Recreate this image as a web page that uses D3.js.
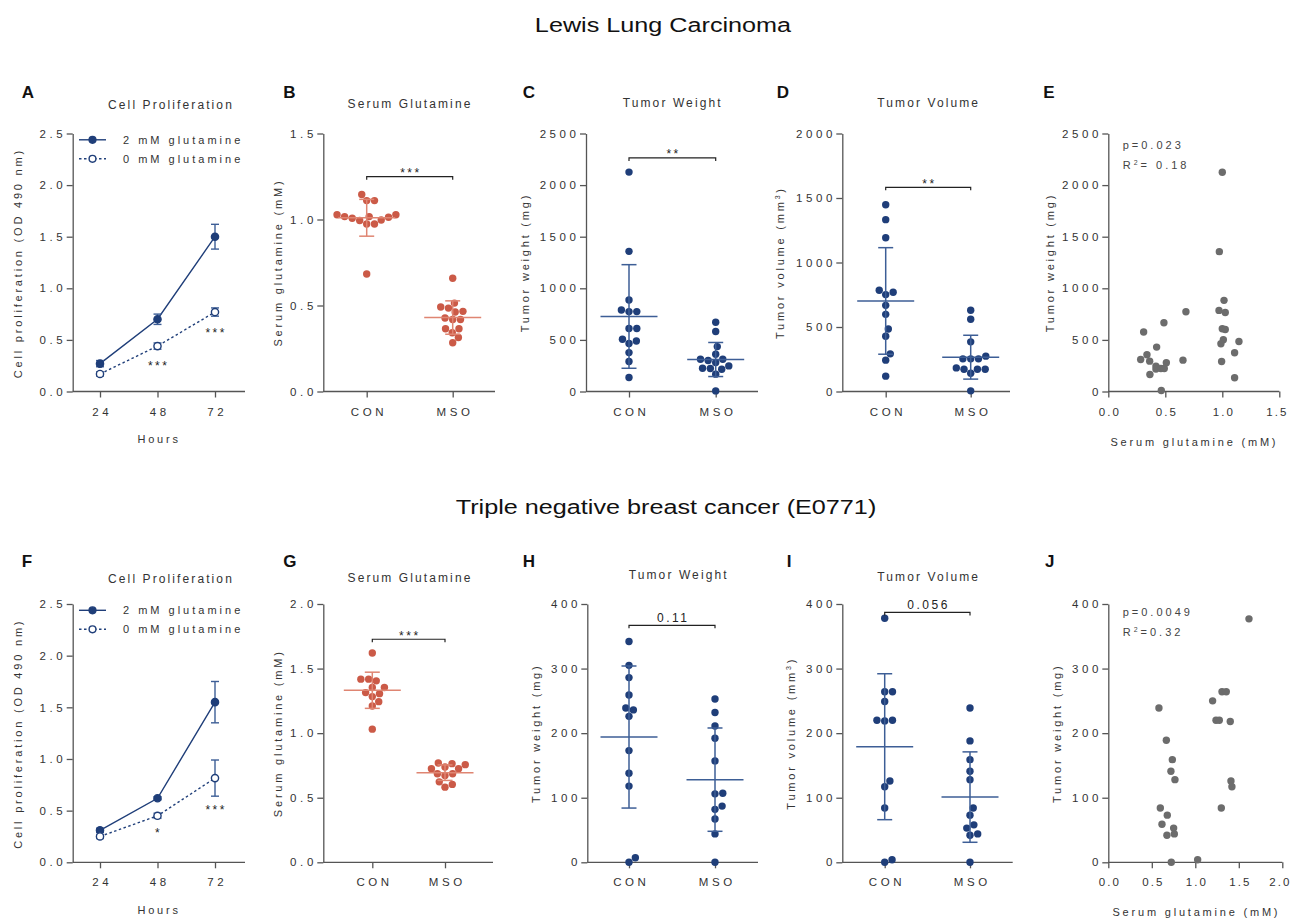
<!DOCTYPE html>
<html>
<head>
<meta charset="utf-8">
<script src="https://cdn.jsdelivr.net/npm/d3@7"></script>
<style>
body { margin: 0; background: #fff; }
svg { font-family: "Liberation Sans", Arial, Helvetica, sans-serif; }
.axis .domain, .axis .tick line { stroke: #555; stroke-width: 1.3; }
.axis .tick text { fill: #333; font-size: 11.5px; letter-spacing: 3.6px; font-family: "Liberation Sans", Arial, sans-serif; }
.corr-x .tick text { letter-spacing: 2px; }
.ptitle { fill: #333; font-size: 12px; letter-spacing: 2.1px; }
.alabel { fill: #333; font-size: 11px; letter-spacing: 2.8px; }
.legend { fill: #333; font-size: 11px; letter-spacing: 3px; }
.stat { fill: #444; font-size: 11px; letter-spacing: 3px; }
.sig { fill: #222; font-size: 12px; letter-spacing: 2.5px; }
.letter { fill: #111; font-size: 17px; font-weight: bold; }
.maintitle { fill: #111; font-size: 21px; }
</style>
</head>
<body>
<script>
// Glutamine / MSO figure: Lewis lung carcinoma (top) and E0771 TNBC (bottom)

// ---------- shared ----------
var hours = [24, 48, 72];
var groupNames = ["CON", "MSO"];
var prolifTicks = [0, 0.5, 1, 1.5, 2, 2.5];

// ---------- Lewis lung carcinoma ----------
var llcProlifHigh = [0.27, 0.70, 1.50];
var llcProlifHighSd = [0.03, 0.05, 0.12];
var llcProlifLow = [0.17, 0.44, 0.77];
var llcProlifLowSd = [0.02, 0.03, 0.04];
var llcProlifStars = ["", "***", "***"];
var llcProlifStarAt = [0, 0.28, 0.60];

var llcSerumCon = [1.145, 1.11, 1.11, 1.017, 1.013, 0.997, 1.028, 1.028, 0.974, 0.974, 0.994, 1.007, 1.017, 0.683];
var llcSerumMso = [0.658, 0.485, 0.514, 0.491, 0.462, 0.466, 0.427, 0.419, 0.419, 0.365, 0.365, 0.342, 0.314, 0.283];
var llcSerumMean = [1.01, 0.43];
var llcSerumSd = [0.107, 0.097];
var llcSerumTicks = [0, 0.5, 1.0, 1.5];
var llcSerumSig = ["***", 1.249];

var llcWeightCon = [2126, 1358, 887, 774, 774, 790, 610, 610, 490, 506, 465, 377, 290, 135];
var llcWeightMso = [671, 581, 435, 361, 313, 300, 248, 281, 313, 226, 216, 223, 168, 6];
var llcWeightMean = [727, 310];
var llcWeightSd = [502, 165];
var llcWeightTicks = [0, 500, 1000, 1500, 2000, 2500];
var llcWeightSig = ["**", 2263];

var llcVolumeCon = [1448, 1332, 1192, 769, 751, 785, 668, 598, 485, 428, 292, 243, 119];
var llcVolumeMso = [630, 560, 385, 253, 253, 253, 274, 173, 173, 173, 183, 142, 5];
var llcVolumeMean = [702, 266];
var llcVolumeSd = [413, 170];
var llcVolumeTicks = [0, 500, 1000, 1500, 2000];
var llcVolumeSig = ["**", 1583];

var llcCorrGln = [1.000, 0.974, 1.015, 0.971, 1.026, 1.000, 1.026, 1.009, 0.988, 1.146, 0.994, 1.108, 1.108, 0.681,
                  0.488, 0.310, 0.424, 0.339, 0.284, 0.363, 0.655, 0.509, 0.418, 0.418, 0.462, 0.491, 0.365, 0.465];
var llcCorrWeight = [2125, 1355, 883, 786, 766, 608, 601, 501, 462, 485, 291, 375, 133, 773,
                     666, 576, 430, 356, 310, 294, 304, 278, 246, 217, 223, 223, 165, 10];
var llcCorrXTicks = [0, 0.5, 1.0, 1.5];
var llcCorrP = "p=0.023";
var llcCorrR2 = "= 0.18";

// ---------- Triple negative breast cancer (E0771) ----------
var tnbcProlifHigh = [0.31, 0.62, 1.55];
var tnbcProlifHighSd = [0.02, 0.015, 0.20];
var tnbcProlifLow = [0.25, 0.45, 0.815];
var tnbcProlifLowSd = [0.02, 0.025, 0.175];
var tnbcProlifStars = ["", "*", "***"];
var tnbcProlifStarAt = [0, 0.31, 0.535];

var tnbcSerumCon = [1.621, 1.418, 1.418, 1.405, 1.353, 1.353, 1.314, 1.306, 1.283, 1.244, 1.210, 1.031];
var tnbcSerumMso = [0.764, 0.769, 0.756, 0.738, 0.725, 0.725, 0.686, 0.686, 0.673, 0.623, 0.603, 0.582];
var tnbcSerumMean = [1.332, 0.694];
var tnbcSerumSd = [0.14, 0.06];
var tnbcSerumTicks = [0, 0.5, 1.0, 1.5, 2.0];
var tnbcSerumSig = ["***", 1.727];

var tnbcWeightCon = [342, 305, 286, 259, 239, 236, 226, 173, 138, 118, 0, 7];
var tnbcWeightMso = [253, 232, 211, 192, 157, 106, 107, 87, 82, 67, 44, 0];
var tnbcWeightMean = [194, 128];
var tnbcWeightSd = [110, 80];
var tnbcWeightTicks = [0, 100, 200, 300, 400];
var tnbcWeightSig = ["0.11", 367];

var tnbcVolumeCon = [378, 264, 264, 249, 220, 219, 220, 126, 117, 84, 0, 4];
var tnbcVolumeMso = [239, 188, 159, 141, 128, 84, 73, 58, 53, 44, 42, 0];
var tnbcVolumeMean = [179, 101];
var tnbcVolumeSd = [113, 70];
var tnbcVolumeTicks = [0, 100, 200, 300, 400];
var tnbcVolumeSig = ["0.056", 387];

var tnbcCorrGln = [1.617, 0.582, 1.199, 1.307, 1.356, 1.238, 1.276, 1.402, 0.667, 0.736, 0.720, 0.766,
                   1.410, 1.421, 0.598, 1.299, 0.678, 0.617, 0.751, 0.674, 0.759, 0.724, 1.027];
var tnbcCorrWeight = [377, 239, 250, 264, 264, 220, 220, 218, 189, 159, 141, 128,
                      126, 117, 84, 84, 73, 59, 53, 42, 44, 0, 4];
var tnbcCorrXTicks = [0, 0.5, 1.0, 1.5, 2.0];
var tnbcCorrP = "p=0.0049";
var tnbcCorrR2 = "=0.32";

// ---------- colours ----------
var blueDot = "#1f3e79", blueLine = "#3d5e96";
var redDot = "#cb5a47", redLine = "#df8572";
var grayDot = "#6c6c6c";
var DOT_R = 3.7;

var svg = d3.select("body").append("svg")
    .attr("width", 1290)
    .attr("height", 920);

var rows = [{top: 133.5, bottom: 391.5}, {top: 604, bottom: 862.3}];

// ---------- helpers ----------
function yAxisAt(y, left, ticks, fmt) {
    var a = svg.append("g").attr("class", "axis")
        .attr("transform", "translate(" + left + ",0)")
        .call(d3.axisLeft(y).tickValues(ticks).tickFormat(d3.format(fmt))
            .tickSize(6).tickSizeOuter(0).tickPadding(4));
    a.selectAll(".tick text").attr("dx", 3.6);
    return a;
}

function xAxisAt(x, bottom, left, right, ticks, fmt) {
    var ax = d3.axisBottom(x).tickSize(6).tickSizeOuter(0).tickPadding(10);
    if (ticks) { ax.tickValues(ticks); }
    if (fmt) { ax.tickFormat(d3.format(fmt)); }
    var a = svg.append("g").attr("class", "axis")
        .attr("transform", "translate(0," + bottom + ")")
        .call(ax);
    a.select(".domain").attr("d", "M" + left + ",0H" + right);
    a.selectAll(".tick text").attr("dx", 1.8);
    return a;
}

function yLabel(x, yc, txt, sup, tail) {
    var t = svg.append("text").attr("class", "alabel")
        .attr("transform", "translate(" + x + "," + yc + ") rotate(-90)")
        .attr("text-anchor", "middle")
        .attr("dy", "0.35em")
        .attr("dx", 1.4);
    t.append("tspan").text(txt);
    if (sup) {
        t.append("tspan").attr("dy", -4).style("font-size", "7px").text(sup);
        t.append("tspan").attr("dy", 4).text(tail);
    }
}

function plainText(x, y, txt, cls, anchor, dx) {
    return svg.append("text").attr("class", cls)
        .attr("x", x).attr("y", y)
        .attr("dx", dx || 0)
        .attr("text-anchor", anchor || "middle")
        .text(txt);
}

// place dots of one group side by side like a column scatter
function swarm(values, y, r) {
    var order = values.map(function (d, i) { return i; })
        .sort(function (a, b) { return values[a] - values[b]; });
    var placed = [];
    var out = [];
    order.forEach(function (i) {
        var py = y(values[i]);
        var blocks = [];
        placed.forEach(function (p) {
            var dy = Math.abs(p.y - py);
            if (dy < 2 * r) {
                var dx = Math.sqrt(4 * r * r - dy * dy);
                blocks.push([p.x - dx, p.x + dx]);
            }
        });
        var cands = [0];
        blocks.forEach(function (b) { cands.push(b[0], b[1]); });
        cands.sort(function (a, b) { return Math.abs(a) - Math.abs(b) || b - a; });
        var best = 0;
        for (var k = 0; k < cands.length; k++) {
            var c = cands[k];
            var ok = blocks.every(function (b) { return c <= b[0] + 1e-6 || c >= b[1] - 1e-6; });
            if (ok) { best = c; break; }
        }
        placed.push({x: best, y: py});
        out.push({dx: best, y: py});
    });
    return out;
}

// ---------- proliferation line panel ----------
function prolifPanel(cfg, high, highSd, low, lowSd, stars, starAt) {
    var row = rows[cfg.row];
    var x = d3.scaleLinear().domain([24, 72]).range([100, 215]);
    var y = d3.scaleLinear().domain([0, 2.5]).range([row.bottom, row.top]);

    yAxisAt(y, 72.7, prolifTicks, ".1f");
    xAxisAt(x, row.bottom, 72.7, 245, hours, "d");

    var g = svg.append("g");
    var line = d3.line().x(function (d, i) { return x(hours[i]); }).y(function (d) { return y(d); });

    var series = [
        {vals: high, sd: highSd, dash: null, fill: blueDot},
        {vals: low, sd: lowSd, dash: "2.5,2.5", fill: "#fff"}
    ];
    series.forEach(function (s) {
        g.append("path").attr("d", line(s.vals))
            .attr("fill", "none").attr("stroke", blueDot).attr("stroke-width", 1.4)
            .attr("stroke-dasharray", s.dash);
        s.vals.forEach(function (v, i) {
            var cx = x(hours[i]);
            g.append("line").attr("x1", cx).attr("x2", cx)
                .attr("y1", y(v - s.sd[i])).attr("y2", y(v + s.sd[i]))
                .attr("stroke", blueLine).attr("stroke-width", 1.4);
            [v - s.sd[i], v + s.sd[i]].forEach(function (e) {
                g.append("line").attr("x1", cx - 4).attr("x2", cx + 4)
                    .attr("y1", y(e)).attr("y2", y(e))
                    .attr("stroke", blueLine).attr("stroke-width", 1.4);
            });
            g.append("circle").attr("cx", cx).attr("cy", y(v)).attr("r", 3.6)
                .attr("fill", s.fill).attr("stroke", blueDot).attr("stroke-width", 1.4);
        });
    });

    stars.forEach(function (s, i) {
        if (s) { plainText(x(hours[i]), y(starAt[i]) + 7, s, "sig", "middle", 1.2); }
    });

    // legend
    var ly = [row.top + 6.3, row.top + 25.3];
    var labels = ["2 mM glutamine", "0 mM glutamine"];
    series.forEach(function (s, i) {
        g.append("line").attr("x1", 79).attr("x2", 106).attr("y1", ly[i]).attr("y2", ly[i])
            .attr("stroke", blueDot).attr("stroke-width", 1.4).attr("stroke-dasharray", s.dash);
        g.append("circle").attr("cx", 92.5).attr("cy", ly[i]).attr("r", 3.4)
            .attr("fill", s.fill).attr("stroke", blueDot).attr("stroke-width", 1.4);
        plainText(123, ly[i] + 4, labels[i], "legend", "start");
    });

    plainText(170, cfg.titleY, "Cell Proliferation", "ptitle", "middle", 1);
    plainText(157.7, row.bottom + 51.5, "Hours", "alabel", "middle", 1.4);
    yLabel(18.3, (row.top + row.bottom) / 2 + 2, "Cell proliferation (OD 490 nm)");
    plainText(21.7, cfg.letterY, cfg.letter, "letter", "start");
}

// ---------- CON vs MSO column scatter panel ----------
function dotPanel(cfg, con, mso, mean, sd, ticks, fmt, sig, dotCol, lineCol) {
    var row = rows[cfg.row];
    var y = d3.scaleLinear().domain([0, ticks[ticks.length - 1]]).range([row.bottom, row.top]);
    var x = d3.scalePoint().domain(groupNames).range(cfg.xs);

    yAxisAt(y, cfg.left, ticks, fmt);
    xAxisAt(x, row.bottom, cfg.left, cfg.right);

    var g = svg.append("g");
    [con, mso].forEach(function (vals, gi) {
        var cx = x(groupNames[gi]);
        var lo = mean[gi] - sd[gi], hi = mean[gi] + sd[gi];
        var pts = swarm(vals, y, DOT_R + 0.2);
        g.selectAll(null).data(pts).enter().append("circle")
            .attr("cx", function (d) { return cx + d.dx; })
            .attr("cy", function (d) { return d.y; })
            .attr("r", DOT_R)
            .attr("fill", dotCol);
        g.append("line").attr("x1", cx).attr("x2", cx).attr("y1", y(lo)).attr("y2", y(hi))
            .attr("stroke", lineCol).attr("stroke-width", 1.5);
        [lo, hi].forEach(function (e) {
            g.append("line").attr("x1", cx - 7.5).attr("x2", cx + 7.5).attr("y1", y(e)).attr("y2", y(e))
                .attr("stroke", lineCol).attr("stroke-width", 1.5);
        });
        g.append("line").attr("x1", cx - 28.5).attr("x2", cx + 28.5)
            .attr("y1", y(mean[gi])).attr("y2", y(mean[gi]))
            .attr("stroke", lineCol).attr("stroke-width", 1.5);
    });

    // significance bracket
    var by = y(sig[1]);
    var x0 = x(groupNames[0]), x1 = x(groupNames[1]);
    g.append("path").attr("d", "M" + x0 + "," + (by + 3) + "V" + by + "H" + x1 + "V" + (by + 3))
        .attr("fill", "none").attr("stroke", "#222").attr("stroke-width", 1.2);
    var isStar = sig[0].indexOf("*") >= 0;
    plainText((x0 + x1) / 2, isStar ? by + 0.5 : by - 3, sig[0], "sig", "middle", 1.2);

    plainText(cfg.titleX, cfg.titleY, cfg.title, "ptitle", "middle", 1);
    yLabel(cfg.ylabX, (row.top + row.bottom) / 2 + 1.5, cfg.ylab, cfg.sup, cfg.tail);
    plainText(cfg.letterX, cfg.letterY, cfg.letter, "letter", "start");
}

// ---------- correlation scatter panel ----------
function corrPanel(cfg, gln, weight, yTicks, xTicks, pTxt, r2Txt) {
    var row = rows[cfg.row];
    var y = d3.scaleLinear().domain([0, yTicks[yTicks.length - 1]]).range([row.bottom, row.top]);
    var x = d3.scaleLinear().domain([0, xTicks[xTicks.length - 1]]).range([1108.3, cfg.right]);

    yAxisAt(y, 1108.3, yTicks, "d");
    var xa = xAxisAt(x, row.bottom, 1108.3, cfg.right, xTicks, ".1f");
    xa.classed("corr-x", true);
    xa.selectAll(".tick text").attr("dx", function (d, i) { return i === xTicks.length - 1 ? -2.5 : 1; });

    svg.append("g").selectAll("circle").data(gln).enter().append("circle")
        .attr("cx", function (d) { return x(d); })
        .attr("cy", function (d, i) { return y(weight[i]); })
        .attr("r", DOT_R)
        .attr("fill", grayDot);

    plainText(1122.7, cfg.pY, pTxt, "stat", "start");
    var t = plainText(1122.7, cfg.pY + 20, "R", "stat", "start");
    t.append("tspan").attr("dy", -4).style("font-size", "7px").text("2");
    t.append("tspan").attr("dy", 4).text(r2Txt);

    plainText(cfg.xlabX, row.bottom + cfg.xlabOff, "Serum glutamine (mM)", "alabel", "middle", 1.4);
    yLabel(cfg.ylabX, (row.top + row.bottom) / 2 + 1.5, "Tumor weight (mg)");
    plainText(cfg.letterX, cfg.letterY, cfg.letter, "letter", "start");
}

// ---------- main titles ----------
svg.append("text").attr("class", "maintitle")
    .attr("transform", "translate(663,32) scale(1.2,1)")
    .attr("text-anchor", "middle")
    .text("Lewis Lung Carcinoma");
svg.append("text").attr("class", "maintitle")
    .attr("transform", "translate(666,514) scale(1.2,1)")
    .attr("text-anchor", "middle")
    .text("Triple negative breast cancer (E0771)");

// ---------- top row ----------
prolifPanel({row: 0, titleY: 109.3, letter: "A", letterY: 98},
    llcProlifHigh, llcProlifHighSd, llcProlifLow, llcProlifLowSd, llcProlifStars, llcProlifStarAt);

dotPanel({row: 0, left: 323.3, right: 495, xs: [366.7, 452.7], title: "Serum Glutamine", titleX: 409, titleY: 108.3,
          ylab: "Serum glutamine (mM)", ylabX: 278, letter: "B", letterX: 283.3, letterY: 98},
    llcSerumCon, llcSerumMso, llcSerumMean, llcSerumSd, llcSerumTicks, ".1f", llcSerumSig, redDot, redLine);

dotPanel({row: 0, left: 586, right: 758, xs: [629, 715.7], title: "Tumor Weight", titleX: 671.7, titleY: 107.3,
          ylab: "Tumor weight (mg)", ylabX: 525, letter: "C", letterX: 522.7, letterY: 98},
    llcWeightCon, llcWeightMso, llcWeightMean, llcWeightSd, llcWeightTicks, "d", llcWeightSig, blueDot, blueLine);

dotPanel({row: 0, left: 842.3, right: 1010, xs: [885.7, 970.7], title: "Tumor Volume", titleX: 927.7, titleY: 107.3,
          ylab: "Tumor volume (mm", sup: "3", tail: ")", ylabX: 780, letter: "D", letterX: 776.7, letterY: 98},
    llcVolumeCon, llcVolumeMso, llcVolumeMean, llcVolumeSd, llcVolumeTicks, "d", llcVolumeSig, blueDot, blueLine);

corrPanel({row: 0, right: 1279.3, pY: 149, xlabX: 1193, xlabOff: 54.5, ylabX: 1050, letter: "E", letterX: 1043.3, letterY: 98},
    llcCorrGln, llcCorrWeight, llcWeightTicks, llcCorrXTicks, llcCorrP, llcCorrR2);

// ---------- bottom row ----------
prolifPanel({row: 1, titleY: 583.3, letter: "F", letterY: 567},
    tnbcProlifHigh, tnbcProlifHighSd, tnbcProlifLow, tnbcProlifLowSd, tnbcProlifStars, tnbcProlifStarAt);

dotPanel({row: 1, left: 323.3, right: 493, xs: [372.3, 445], title: "Serum Glutamine", titleX: 409, titleY: 581.6,
          ylab: "Serum glutamine (mM)", ylabX: 278, letter: "G", letterX: 283.3, letterY: 567},
    tnbcSerumCon, tnbcSerumMso, tnbcSerumMean, tnbcSerumSd, tnbcSerumTicks, ".1f", tnbcSerumSig, redDot, redLine);

dotPanel({row: 1, left: 587.3, right: 758, xs: [629, 715], title: "Tumor Weight", titleX: 677.7, titleY: 579.3,
          ylab: "Tumor weight (mg)", ylabX: 536, letter: "H", letterX: 522.7, letterY: 567},
    tnbcWeightCon, tnbcWeightMso, tnbcWeightMean, tnbcWeightSd, tnbcWeightTicks, "d", tnbcWeightSig, blueDot, blueLine);

dotPanel({row: 1, left: 842.3, right: 1012.7, xs: [884.7, 970], title: "Tumor Volume", titleX: 927.7, titleY: 581,
          ylab: "Tumor volume (mm", sup: "3", tail: ")", ylabX: 791, letter: "I", letterX: 786.7, letterY: 567},
    tnbcVolumeCon, tnbcVolumeMso, tnbcVolumeMean, tnbcVolumeSd, tnbcVolumeTicks, "d", tnbcVolumeSig, blueDot, blueLine);

corrPanel({row: 1, right: 1282.3, pY: 615.5, xlabX: 1195, xlabOff: 54, ylabX: 1056.7, letter: "J", letterX: 1045, letterY: 567},
    tnbcCorrGln, tnbcCorrWeight, tnbcWeightTicks, tnbcCorrXTicks, tnbcCorrP, tnbcCorrR2);
</script>
</body>
</html>
